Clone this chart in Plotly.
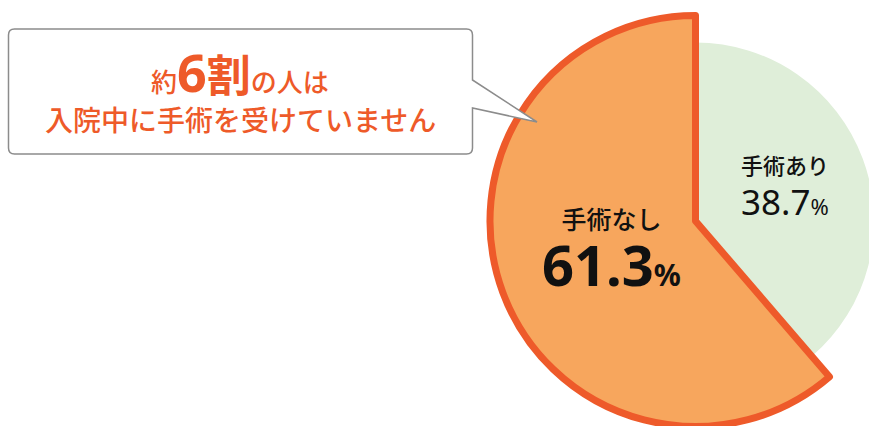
import plotly.graph_objects as go

# ---- data ----
labels = ["手術あり", "手術なし"]
values = [38.7, 61.3]
callout_pre = "約"
callout_num = "6"
callout_unit = "割"
callout_post = "の人は"
callout_line2 = "入院中に手術を受けていません"

# ---- styles ----
W, H = 910, 440          # figure slightly larger than the viewport; the pie is cropped like the reference
CX, CY = 695.5, 221.0    # pie centre (px from top-left)
R_BIG, R_SMALL = 205.5, 178.5
ORANGE_FILL = "#f7a65d"
ORANGE_LINE = "#ee5a2a"
GREEN_FILL = "#dfeed9"
TXT_ORANGE = "#ee5a29"
CLEAR = "rgba(0,0,0,0)"
FONT = "Noto Sans, Noto Sans CJK JP"
DIRECTION = "clockwise"


def px(x):
    return x / W


def py(y):
    return 1 - y / H


def dom(r):
    return dict(x=[px(CX - r), px(CX + r)], y=[py(CY + r), py(CY - r)])


fig = go.Figure()

# small-radius pie carrying the green slice
fig.add_trace(go.Pie(
    labels=labels, values=values, sort=False, direction=DIRECTION, rotation=0,
    domain=dom(R_SMALL), textinfo="none", hoverinfo="label+percent", showlegend=False,
    marker=dict(colors=[GREEN_FILL, CLEAR], line=dict(width=0)),
))
# large-radius pie carrying the outlined orange slice
fig.add_trace(go.Pie(
    labels=labels, values=values, sort=False, direction=DIRECTION, rotation=0,
    domain=dom(R_BIG), textinfo="none", hoverinfo="label+percent", showlegend=False,
    marker=dict(colors=[CLEAR, ORANGE_FILL],
                line=dict(color=[CLEAR, ORANGE_LINE], width=[0, 7])),
))

# callout bubble
x0, y0, x1, y1, rr = 8.5, 29.0, 472.5, 154.0, 6.0
tail_a, tail_b, tip = 80.0, 108.0, (537.0, 122.0)
pts = [
    ("M", (x0 + rr, y0)), ("L", (x1 - rr, y0)), ("Q", (x1, y0), (x1, y0 + rr)),
    ("L", (x1, tail_a)), ("L", tip), ("L", (x1, tail_b)),
    ("L", (x1, y1 - rr)), ("Q", (x1, y1), (x1 - rr, y1)),
    ("L", (x0 + rr, y1)), ("Q", (x0, y1), (x0, y1 - rr)),
    ("L", (x0, y0 + rr)), ("Q", (x0, y0), (x0 + rr, y0)),
]
path = ""
for seg in pts:
    path += seg[0] + " " + " ".join(f"{px(p[0]):.5f},{py(p[1]):.5f}" for p in seg[1:]) + " "
path += "Z"
fig.add_shape(type="path", path=path, xref="paper", yref="paper", layer="above",
              fillcolor="white", line=dict(color="#8c8c8c", width=1.5))

line1 = (f"{callout_pre}<span style='font-size:52px'><b>{callout_num}</b></span>"
         f"<span style='font-size:44px'><b>{callout_unit}</b></span>{callout_post}")
fig.add_annotation(x=px(240), y=py(72), xref="paper", yref="paper", text=line1,
                   showarrow=False, xanchor="center", yanchor="middle",
                   font=dict(family=FONT, size=26, color=TXT_ORANGE, weight=500))
fig.add_annotation(x=px(240), y=py(120), xref="paper", yref="paper", text=callout_line2,
                   showarrow=False, xanchor="center", yanchor="middle",
                   font=dict(family=FONT, size=28, color=TXT_ORANGE, weight=500))

# slice labels (label + percentage as one two-line text)
big_txt = (f"<span style='font-size:25px'>{labels[1]}</span><br>"
           f"<span style='font-size:56px'><b>{values[1]:.1f}</b></span>"
           f"<span style='font-size:30px'><b>%</b></span>")
fig.add_annotation(x=px(611), y=py(252), xref="paper", yref="paper", text=big_txt,
                   showarrow=False, xanchor="center", yanchor="middle", align="center",
                   font=dict(family=FONT, size=44, color="#111111", weight=500))
fig.add_annotation(x=px(785), y=py(165), xref="paper", yref="paper", text=labels[0],
                   showarrow=False, xanchor="center", yanchor="middle",
                   font=dict(family=FONT, size=22, color="#111111", weight=500))
fig.add_annotation(x=px(785), y=py(201), xref="paper", yref="paper",
                   text=f"{values[0]:.1f}<span style='font-size:22px'>%</span>",
                   showarrow=False, xanchor="center", yanchor="middle",
                   font=dict(family=FONT, size=35, color="#111111"))

fig.update_layout(width=W, height=H, autosize=False,
                  margin=dict(l=0, r=0, t=0, b=0),
                  paper_bgcolor="white", plot_bgcolor="white", showlegend=False)

fig.write_html("out.html", config={"displayModeBar": False},
               post_script="document.documentElement.style.overflow='hidden';"
                           "document.body.style.overflow='hidden';"
                           "document.body.style.margin='0';")
